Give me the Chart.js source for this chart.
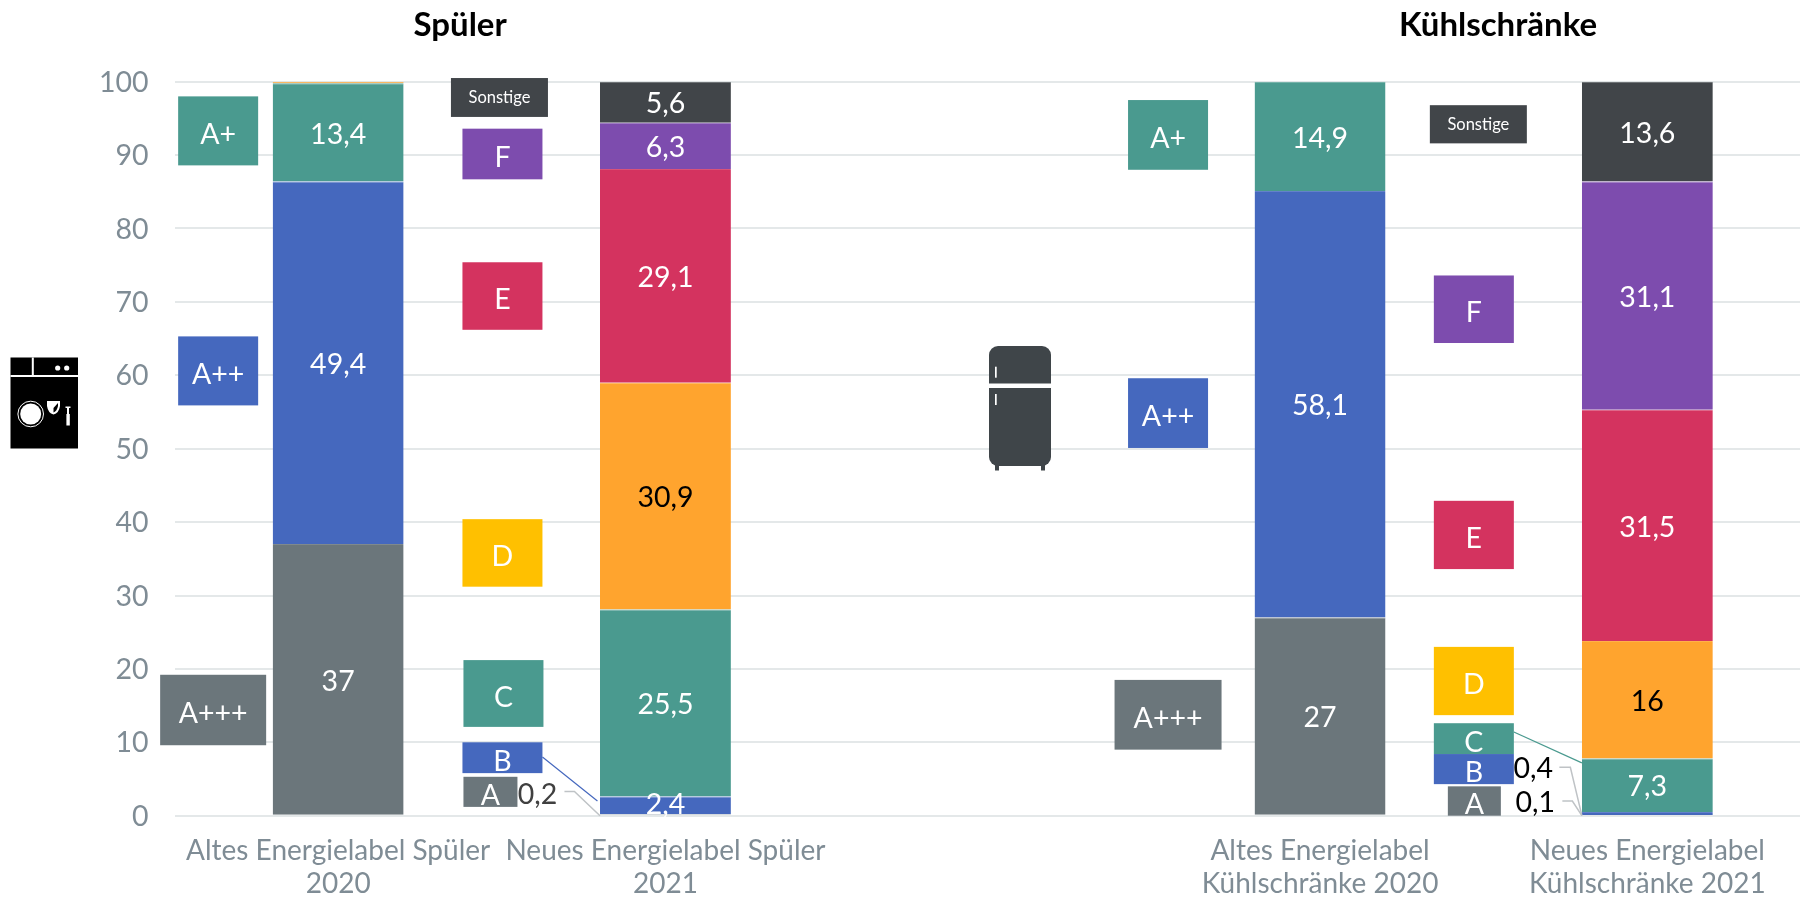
<!DOCTYPE html>
<html lang="de">
<head>
<meta charset="utf-8">
<title>Energielabel</title>
<script src="https://cdn.jsdelivr.net/npm/chart.js@4/dist/chart.umd.min.js"></script>
<style>
html,body{margin:0;padding:0;background:#fff;width:1800px;height:898px;overflow:hidden}
#wrap{width:1800px;height:898px;overflow:hidden;position:relative}
canvas{display:block}
</style>
</head>
<body>
<div id="wrap"><canvas id="c" width="1811" height="898"></canvas></div>
<script>
// ---- data ----
const categories = [
  ["Altes Energielabel Spüler", "2020"],
  ["Neues Energielabel Spüler", "2021"],
  "",
  ["Altes Energielabel", "Kühlschränke 2020"],
  ["Neues Energielabel", "Kühlschränke 2021"]
];
const gradeGrey   = [37, 0.2, null, 27, 0.1];
const gradeBlue   = [49.4, 2.4, null, 58.1, 0.4];
const gradeTeal   = [13.4, 25.5, null, 14.9, 7.3];
const gradeOrange = [0.2, 30.9, null, null, 16];
const gradeRed    = [null, 29.1, null, null, 31.5];
const gradePurple = [null, 6.3, null, null, 31.1];
const gradeDark   = [null, 5.6, null, null, 13.6];
const seriesNames = ["A+++ / A", "A++ / B", "A+ / C", "D", "E", "F", "Sonstige"];
const yTicks = [0, 10, 20, 30, 40, 50, 60, 70, 80, 90, 100];
const titles = ["Spüler", "Kühlschränke"];

// ---- style and layout ----
const C = {grey:"#6B767B", blue:"#4568BE", teal:"#4A9A8F", orange:"#FFA42E", red:"#D4335F",
           purple:"#7D4CAE", dark:"#414549", yellow:"#FFC000", tick:"#7F8C95", grid:"#E4E8E9", lead:"#BFC3C6"};
const FONT = "Lato, Carlito, sans-serif";
const SIZE = 28.5;
const seriesColors = [C.grey, C.blue, C.teal, C.orange, C.red, C.purple, C.dark];
const seamColors = ["#7F898D", "#6381CA", "#66AAA0", "#FFB14A", "#DA5278", "#9268BB", "#5E6265"];
const labelInk = {3:"#000000"};
// box: category index, x offset of centre from the bar centre, width, top and bottom on the value scale
const boxes = [
  ["A+",   0,-120, 80, 98.0, 88.6, C.teal, SIZE],
  ["A++",  0,-120, 80, 65.3, 55.9, C.blue, SIZE],
  ["A+++", 0,-125,106, 19.2,  9.6, C.grey, SIZE],
  ["Sonstige",1,-166,97,100.5,95.2, C.dark, 16.5],
  ["F",    1,-163, 80, 93.6, 86.7, C.purple, SIZE],
  ["E",    1,-163, 80, 75.4, 66.2, C.red, SIZE],
  ["D",    1,-163, 80, 40.4, 31.2, C.yellow, SIZE],
  ["C",    1,-162, 80, 21.2, 12.1, C.teal, SIZE],
  ["B",    1,-163, 80, 10.0,  5.8, C.blue, SIZE],
  ["A",    1,-175, 54,  5.3,  1.2, C.grey, SIZE],
  ["A+",   3,-152, 80, 97.5, 88.0, C.teal, SIZE],
  ["A++",  3,-152, 80, 59.6, 50.1, C.blue, SIZE],
  ["A+++", 3,-152,107, 18.5,  9.0, C.grey, SIZE],
  ["Sonstige",4,-169,97,96.8,91.6, C.dark, 16.5],
  ["F",    4,-173.5,80, 73.6, 64.4, C.purple, SIZE],
  ["E",    4,-173.5,80, 42.9, 33.6, C.red, SIZE],
  ["D",    4,-173.5,80, 23.0, 13.7, C.yellow, SIZE],
  ["C",    4,-173.5,80, 12.6,  8.4, C.teal, SIZE],
  ["B",    4,-173.5,80,  8.4,  4.3, C.blue, SIZE],
  ["A",    4,-173, 53,  4.0,  0.0, C.grey, SIZE]
];
// outside value: category, series, label offset, label value height, leader start / elbow offsets, ink
const outside = [
  [1, 0, -128, 2.9, -101, -91, 3.3, "#404040"],
  [4, 1, -114, 6.4,  -88, -77, 6.6, "#000000"],
  [4, 0, -112, 1.8,  -85, -75, 2.0, "#000000"]
];
// coloured connectors: category, x offset at box edge, value at box edge, value at bar edge, colour
const connectors = [
  [1, -123, 8.0, 2.0, C.blue, -68],
  [4, -133.5, 11.4, 7.2, C.teal, -65.5]
];
const titlePlaces = [[0, 122], [3, 178]];

const valueText = v => String(v).replace(".", ",");
const rawSeries = [gradeGrey, gradeBlue, gradeTeal, gradeOrange, gradeRed, gradePurple, gradeDark];

const overlay = {
  id: "overlay",
  afterDatasetsDraw(chart) {
    const {ctx, scales:{x, y}} = chart;
    ctx.save();
    // values inside the bars
    ctx.textAlign = "center"; ctx.textBaseline = "middle";
    ctx.font = SIZE + "px " + FONT;
    rawSeries.forEach((vals, s) => {
      const meta = chart.getDatasetMeta(s);
      vals.forEach((v, i) => {
        if (v === null || v < 1) return;
        const el = meta.data[i];
        ctx.fillStyle = labelInk[s] || "#FFFFFF";
        ctx.fillText(valueText(v), el.x, (el.y + el.base) / 2 + (v < 5 ? -1 : 2));
      });
    });
    // label boxes
    boxes.forEach(([t, c, dx, w, top, bot, col, fs]) => {
      const cx = x.getPixelForValue(c) + dx, yt = y.getPixelForValue(top), yb = y.getPixelForValue(bot);
      ctx.fillStyle = col;
      ctx.fillRect(cx - w / 2, yt, w, yb - yt);
      ctx.fillStyle = "#FFFFFF";
      ctx.font = fs + "px " + FONT;
      ctx.fillText(t, cx, (yt + yb) / 2 + (fs > 20 ? 4 : 0));
    });
    // outside values with leader lines
    ctx.font = SIZE + "px " + FONT;
    outside.forEach(([c, s, dx, val, sx, ex, ly, ink]) => {
      const el = chart.getDatasetMeta(s).data[c], cx = x.getPixelForValue(c);
      ctx.fillStyle = ink;
      ctx.fillText(valueText(rawSeries[s][c]), cx + dx, y.getPixelForValue(val));
      ctx.strokeStyle = C.lead; ctx.lineWidth = 1.5;
      ctx.beginPath();
      ctx.moveTo(cx + sx, y.getPixelForValue(ly));
      ctx.lineTo(cx + ex, y.getPixelForValue(ly));
      ctx.lineTo(el.x - el.width / 2, y.getPixelForValue(0));
      ctx.stroke();
    });
    connectors.forEach(([c, dx, v0, v1, col, endDx]) => {
      const cx = x.getPixelForValue(c);
      ctx.strokeStyle = col; ctx.lineWidth = 1.2;
      ctx.beginPath();
      ctx.moveTo(cx + dx, y.getPixelForValue(v0));
      ctx.lineTo(cx + endDx, y.getPixelForValue(v1));
      ctx.stroke();
    });
    // panel titles
    ctx.fillStyle = "#000000";
    ctx.font = "bold 33px " + FONT;
    titlePlaces.forEach(([c, dx], i) => ctx.fillText(titles[i], x.getPixelForValue(c) + dx, 25));
    drawDishwasher(ctx);
    drawFridge(ctx);
    ctx.restore();
  }
};

function drawDishwasher(ctx) {
  ctx.fillStyle = "#000"; ctx.fillRect(10.5, 357.5, 67.5, 91);
  ctx.fillStyle = "#fff";
  ctx.fillRect(10.5, 375, 67.5, 2);
  ctx.fillRect(31.8, 357.5, 2, 18);
  ctx.beginPath(); ctx.arc(57.7, 368, 2.6, 0, 7); ctx.arc(66.7, 368, 2.6, 0, 7); ctx.fill();
  ctx.strokeStyle = "#fff"; ctx.lineWidth = 1;
  ctx.beginPath(); ctx.arc(30.7, 414, 12.8, 0, 7); ctx.stroke();
  ctx.beginPath(); ctx.arc(30.7, 414, 10.5, 0, 7); ctx.fill();
  ctx.beginPath(); ctx.moveTo(47, 401); ctx.lineTo(60, 401); ctx.lineTo(60, 406);
  ctx.quadraticCurveTo(59, 413, 53.5, 414.5); ctx.quadraticCurveTo(48, 413, 47, 406); ctx.closePath(); ctx.fill();
  ctx.fillStyle = "#000";
  ctx.beginPath(); ctx.moveTo(58, 403); ctx.lineTo(58, 406); ctx.quadraticCurveTo(57, 411, 53.5, 412.5); ctx.lineTo(53.5, 408); ctx.closePath(); ctx.fill();
  ctx.fillStyle = "#fff";
  ctx.fillRect(65.5, 406.5, 5, 1.5);
  ctx.fillRect(67, 407, 2, 8);
  ctx.fillRect(66.4, 414, 3.4, 11.5);
}

function drawFridge(ctx) {
  ctx.fillStyle = "#3F4549";
  ctx.beginPath(); ctx.roundRect(989, 346, 62, 37.5, [9, 9, 0, 0]); ctx.fill();
  ctx.beginPath(); ctx.roundRect(989, 388, 62, 78, [0, 0, 9, 9]); ctx.fill();
  ctx.fillRect(995, 465, 4, 5.5);
  ctx.fillRect(1041, 465, 4, 5.5);
  ctx.fillStyle = "#fff";
  ctx.fillRect(995, 366.7, 1.7, 11);
  ctx.fillRect(995, 394, 1.7, 11);
}

document.fonts.load("27px Lato").finally(() => {
  new Chart(document.getElementById("c"), {
    type: "bar",
    data: {
      labels: categories,
      datasets: rawSeries.map((d, i) => ({
        label: seriesNames[i], data: d, backgroundColor: seriesColors[i],
        borderColor: seamColors[i], borderWidth: {top: 1, left: 0, right: 0, bottom: 0},
        borderSkipped: false, categoryPercentage: 1, barPercentage: 0.4
      }))
    },
    options: {
      responsive: false, animation: false,
      layout: {padding: {top: 81.7, bottom: 0, left: 0, right: 0}},
      plugins: {legend: {display: false}, title: {display: false}, tooltip: {enabled: false}},
      scales: {
        x: {
          stacked: true,
          grid: {display: false}, border: {display: false},
          afterFit: s => { s.height = 82.3; },
          ticks: {autoSkip: false, maxRotation: 0, minRotation: 0, padding: 11.5,
                  color: C.tick, font: {family: FONT, size: 28, lineHeight: 1.15}}
        },
        y: {
          stacked: true, min: 0, max: 100,
          afterBuildTicks: s => { s.ticks = yTicks.map(v => ({value: v})); },
          afterFit: s => { s.width = 174.5; },
          grid: {color: C.grid, lineWidth: 2, drawTicks: false}, border: {display: false},
          ticks: {padding: 26, labelOffset: 1, color: C.tick, font: {family: FONT, size: SIZE}}
        }
      }
    },
    plugins: [overlay]
  });
});
</script>
</body>
</html>
